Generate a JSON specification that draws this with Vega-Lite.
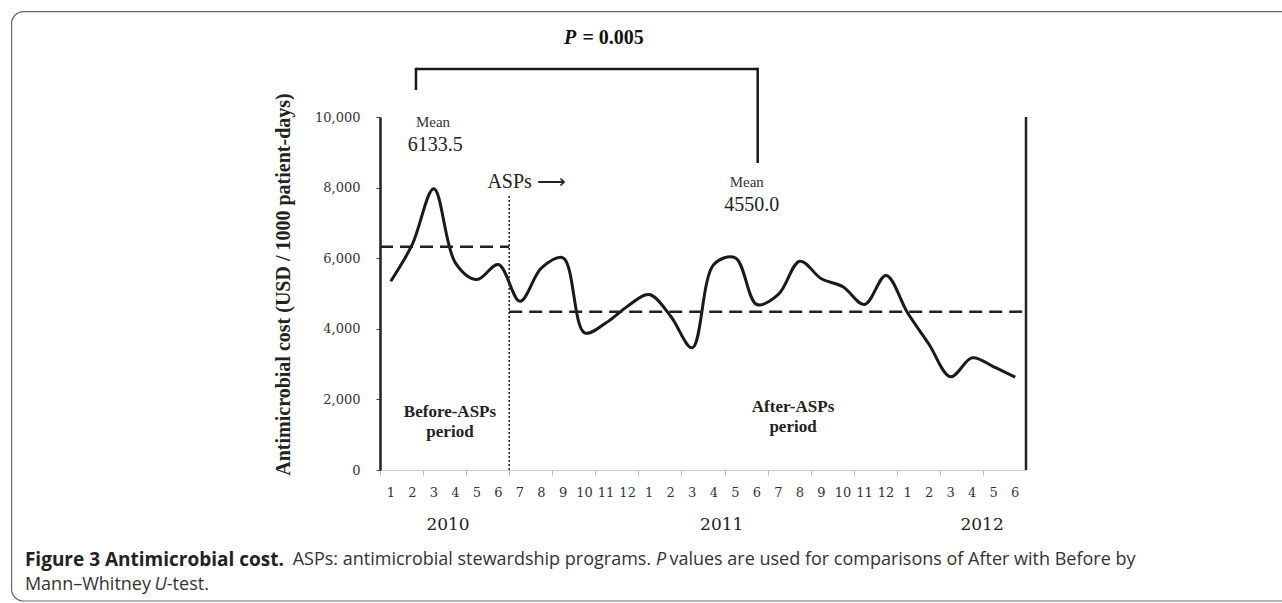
{
  "$schema": "https://vega.github.io/schema/vega-lite/v6.json",
  "width": 646,
  "height": 353,
  "autosize": {"type": "none"},
  "padding": {"left": 380, "top": 117, "right": 256, "bottom": 133},
  "background": "white",
  "config": {"view": {"stroke": null}, "font": "Liberation Serif"},
  "datasets": {
    "cost": [
      {"i": 1, "year": 2010, "month": 1, "cost": 5348},
      {"i": 2, "year": 2010, "month": 2, "cost": 6390},
      {"i": 3, "year": 2010, "month": 3, "cost": 7966},
      {"i": 4, "year": 2010, "month": 4, "cost": 5870},
      {"i": 5, "year": 2010, "month": 5, "cost": 5397},
      {"i": 6, "year": 2010, "month": 6, "cost": 5822},
      {"i": 7, "year": 2010, "month": 7, "cost": 4782},
      {"i": 8, "year": 2010, "month": 8, "cost": 5727},
      {"i": 9, "year": 2010, "month": 9, "cost": 6011},
      {"i": 10, "year": 2010, "month": 10, "cost": 3887},
      {"i": 11, "year": 2010, "month": 11, "cost": 4170},
      {"i": 12, "year": 2010, "month": 12, "cost": 4641},
      {"i": 13, "year": 2011, "month": 1, "cost": 4972},
      {"i": 14, "year": 2011, "month": 2, "cost": 4357},
      {"i": 15, "year": 2011, "month": 3, "cost": 3462},
      {"i": 16, "year": 2011, "month": 4, "cost": 5822},
      {"i": 17, "year": 2011, "month": 5, "cost": 6011},
      {"i": 18, "year": 2011, "month": 6, "cost": 4688},
      {"i": 19, "year": 2011, "month": 7, "cost": 4972},
      {"i": 20, "year": 2011, "month": 8, "cost": 5915},
      {"i": 21, "year": 2011, "month": 9, "cost": 5416},
      {"i": 22, "year": 2011, "month": 10, "cost": 5190},
      {"i": 23, "year": 2011, "month": 11, "cost": 4688},
      {"i": 24, "year": 2011, "month": 12, "cost": 5510},
      {"i": 25, "year": 2012, "month": 1, "cost": 4453},
      {"i": 26, "year": 2012, "month": 2, "cost": 3555},
      {"i": 27, "year": 2012, "month": 3, "cost": 2640},
      {"i": 28, "year": 2012, "month": 4, "cost": 3178},
      {"i": 29, "year": 2012, "month": 5, "cost": 2923},
      {"i": 30, "year": 2012, "month": 6, "cost": 2629}
    ]
  },
  "layer": [
    {
      "data": {"values": [{}]},
      "mark": {"type": "rect", "fill": null, "stroke": "#666", "strokeWidth": 1.2, "cornerRadius": 12},
      "encoding": {
        "x": {"datum": -16.61, "type": "quantitative", "scale": {"domain": [0.5, 30.5], "nice": false, "zero": false}},
        "x2": {"datum": 60},
        "y": {"datum": 12983, "type": "quantitative", "scale": {"domain": [0, 10000], "nice": false, "zero": false}},
        "y2": {"datum": -3711}
      }
    },
    {
      "data": {"name": "cost"},
      "mark": {"type": "line", "interpolate": "catmull-rom", "strokeWidth": 3, "color": "#1a1a1a"},
      "encoding": {
        "x": {
          "field": "i", "type": "quantitative",
          "scale": {"domain": [0.5, 30.5], "nice": false, "zero": false},
          "axis": {
            "values": [1,2,3,4,5,6,7,8,9,10,11,12,13,14,15,16,17,18,19,20,21,22,23,24,25,26,27,28,29,30],
            "labels": false,
            "title": null, "grid": false,
            "domainColor": "#c8c8c8", "domainWidth": 1,
            "tickColor": "#b8b8b8", "tickSize": 5,
            "tickOffset": -10.77
          }
        },
        "y": {
          "field": "cost", "type": "quantitative",
          "scale": {"domain": [0, 10000], "nice": false, "zero": false},
          "axis": {
            "values": [0, 2000, 4000, 6000, 8000, 10000],
            "format": ",d",
            "title": "Antimicrobial cost (USD / 1000 patient-days)",
            "titleFont": "Liberation Serif", "titleFontSize": 20, "titleFontWeight": "bold", "titleColor": "#222",
            "titleX": -97, "titleY": 167, "titleBaseline": "middle", "titleAlign": "center", "titleAngle": 270,
            "grid": false,
            "domainColor": "#222", "domainWidth": 2.5,
            "tickColor": "#444", "tickSize": 4,
            "labelFont": "DejaVu Serif", "labelFontSize": 13, "labelColor": "#333", "labelPadding": 16
          }
        }
      }
    },
    {
      "data": {"name": "cost"},
      "mark": {"type": "text", "font": "DejaVu Serif", "fontSize": 13, "align": "center", "baseline": "middle", "color": "#333"},
      "encoding": {
        "x": {"field": "i", "type": "quantitative", "scale": {"domain": [0.5, 30.5], "nice": false, "zero": false}},
        "y": {"datum": -643, "type": "quantitative", "scale": {"domain": [0, 10000], "nice": false, "zero": false}},
        "text": {"field": "month"}
      }
    },
    {
      "data": {"values": [{}]},
      "mark": {"type": "rule", "strokeDash": [13, 7], "strokeWidth": 2.5, "color": "#222"},
      "encoding": {
        "x": {"datum": 0.5, "type": "quantitative", "scale": {"domain": [0.5, 30.5], "nice": false, "zero": false}},
        "x2": {"datum": 6.5},
        "y": {"datum": 6326, "type": "quantitative", "scale": {"domain": [0, 10000], "nice": false, "zero": false}}
      }
    },
    {
      "data": {"values": [{}]},
      "mark": {"type": "rule", "strokeDash": [13, 7], "strokeWidth": 2.5, "color": "#222"},
      "encoding": {
        "x": {"datum": 6.5, "type": "quantitative", "scale": {"domain": [0.5, 30.5], "nice": false, "zero": false}},
        "x2": {"datum": 30.5},
        "y": {"datum": 4485, "type": "quantitative", "scale": {"domain": [0, 10000], "nice": false, "zero": false}}
      }
    },
    {
      "data": {"values": [{}]},
      "mark": {"type": "rule", "strokeDash": [2, 2], "strokeWidth": 1.5, "color": "#222"},
      "encoding": {
        "x": {"datum": 6.5, "type": "quantitative", "scale": {"domain": [0.5, 30.5], "nice": false, "zero": false}},
        "y": {"datum": 0, "type": "quantitative", "scale": {"domain": [0, 10000], "nice": false, "zero": false}},
        "y2": {"datum": 7790}
      }
    },
    {
      "data": {"values": [{}]},
      "mark": {"type": "rule", "strokeWidth": 2.5, "color": "#222"},
      "encoding": {
        "x": {"datum": 30.5, "type": "quantitative", "scale": {"domain": [0.5, 30.5], "nice": false, "zero": false}},
        "y": {"datum": 0, "type": "quantitative", "scale": {"domain": [0, 10000], "nice": false, "zero": false}},
        "y2": {"datum": 10000}
      }
    },
    {
      "data": {"values": [{}]},
      "mark": {"type": "rule", "strokeWidth": 2.5, "color": "#1a1a1a"},
      "encoding": {
        "x": {"datum": 2.17, "type": "quantitative", "scale": {"domain": [0.5, 30.5], "nice": false, "zero": false}},
        "x2": {"datum": 18.04},
        "y": {"datum": 11360, "type": "quantitative", "scale": {"domain": [0, 10000], "nice": false, "zero": false}}
      }
    },
    {
      "data": {"values": [{}]},
      "mark": {"type": "rule", "strokeWidth": 2.5, "color": "#1a1a1a"},
      "encoding": {
        "x": {"datum": 2.17, "type": "quantitative", "scale": {"domain": [0.5, 30.5], "nice": false, "zero": false}},
        "y": {"datum": 11395, "type": "quantitative", "scale": {"domain": [0, 10000], "nice": false, "zero": false}},
        "y2": {"datum": 10765}
      }
    },
    {
      "data": {"values": [{}]},
      "mark": {"type": "rule", "strokeWidth": 2.5, "color": "#1a1a1a"},
      "encoding": {
        "x": {"datum": 18.04, "type": "quantitative", "scale": {"domain": [0.5, 30.5], "nice": false, "zero": false}},
        "y": {"datum": 11395, "type": "quantitative", "scale": {"domain": [0, 10000], "nice": false, "zero": false}},
        "y2": {"datum": 8697}
      }
    },
    {
      "data": {"values": [{}]},
      "mark": {"type": "text", "text": "P", "font": "Liberation Serif", "fontSize": 20, "fontWeight": "bold", "fontStyle": "italic", "align": "left", "baseline": "alphabetic", "color": "#111"},
      "encoding": {
        "x": {"datum": 9.05, "type": "quantitative", "scale": {"domain": [0.5, 30.5], "nice": false, "zero": false}},
        "y": {"datum": 12068, "type": "quantitative", "scale": {"domain": [0, 10000], "nice": false, "zero": false}}
      }
    },
    {
      "data": {"values": [{}]},
      "mark": {"type": "text", "text": "= 0.005", "font": "Liberation Serif", "fontSize": 20, "fontWeight": "bold", "align": "left", "baseline": "alphabetic", "color": "#111"},
      "encoding": {
        "x": {"datum": 9.9, "type": "quantitative", "scale": {"domain": [0.5, 30.5], "nice": false, "zero": false}},
        "y": {"datum": 12068, "type": "quantitative", "scale": {"domain": [0, 10000], "nice": false, "zero": false}}
      }
    },
    {
      "data": {"values": [{}]},
      "mark": {"type": "text", "text": "Mean", "font": "Liberation Serif", "fontSize": 15, "align": "center", "baseline": "middle", "color": "#333"},
      "encoding": {
        "x": {"datum": 2.96, "type": "quantitative", "scale": {"domain": [0.5, 30.5], "nice": false, "zero": false}},
        "y": {"datum": 9867, "type": "quantitative", "scale": {"domain": [0, 10000], "nice": false, "zero": false}}
      }
    },
    {
      "data": {"values": [{}]},
      "mark": {"type": "text", "text": "6133.5", "font": "Liberation Serif", "fontSize": 20, "align": "center", "baseline": "middle", "color": "#222"},
      "encoding": {
        "x": {"datum": 3.06, "type": "quantitative", "scale": {"domain": [0.5, 30.5], "nice": false, "zero": false}},
        "y": {"datum": 9207, "type": "quantitative", "scale": {"domain": [0, 10000], "nice": false, "zero": false}}
      }
    },
    {
      "data": {"values": [{}]},
      "mark": {"type": "text", "text": "ASPs ⟶", "font": "Liberation Serif", "fontSize": 20, "align": "center", "baseline": "middle", "color": "#222"},
      "encoding": {
        "x": {"datum": 7.31, "type": "quantitative", "scale": {"domain": [0.5, 30.5], "nice": false, "zero": false}},
        "y": {"datum": 8167, "type": "quantitative", "scale": {"domain": [0, 10000], "nice": false, "zero": false}}
      }
    },
    {
      "data": {"values": [{}]},
      "mark": {"type": "text", "text": "Mean", "font": "Liberation Serif", "fontSize": 15, "align": "center", "baseline": "middle", "color": "#333"},
      "encoding": {
        "x": {"datum": 17.53, "type": "quantitative", "scale": {"domain": [0.5, 30.5], "nice": false, "zero": false}},
        "y": {"datum": 8167, "type": "quantitative", "scale": {"domain": [0, 10000], "nice": false, "zero": false}}
      }
    },
    {
      "data": {"values": [{}]},
      "mark": {"type": "text", "text": "4550.0", "font": "Liberation Serif", "fontSize": 20, "align": "center", "baseline": "middle", "color": "#222"},
      "encoding": {
        "x": {"datum": 17.76, "type": "quantitative", "scale": {"domain": [0.5, 30.5], "nice": false, "zero": false}},
        "y": {"datum": 7507, "type": "quantitative", "scale": {"domain": [0, 10000], "nice": false, "zero": false}}
      }
    },
    {
      "data": {"values": [{}]},
      "mark": {"type": "text", "text": ["Before-ASPs", "period"], "lineHeight": 20, "font": "Liberation Serif", "fontSize": 17, "fontWeight": "bold", "align": "center", "baseline": "middle", "color": "#222"},
      "encoding": {
        "x": {"datum": 3.75, "type": "quantitative", "scale": {"domain": [0.5, 30.5], "nice": false, "zero": false}},
        "y": {"datum": 1652, "type": "quantitative", "scale": {"domain": [0, 10000], "nice": false, "zero": false}}
      }
    },
    {
      "data": {"values": [{}]},
      "mark": {"type": "text", "text": ["After-ASPs", "period"], "lineHeight": 20, "font": "Liberation Serif", "fontSize": 17, "fontWeight": "bold", "align": "center", "baseline": "middle", "color": "#222"},
      "encoding": {
        "x": {"datum": 19.68, "type": "quantitative", "scale": {"domain": [0.5, 30.5], "nice": false, "zero": false}},
        "y": {"datum": 1793, "type": "quantitative", "scale": {"domain": [0, 10000], "nice": false, "zero": false}}
      }
    },
    {
      "data": {"values": [{"year": "2010", "pos": 3.66}, {"year": "2011", "pos": 16.37}, {"year": "2012", "pos": 28.46}]},
      "mark": {"type": "text", "font": "DejaVu Serif", "fontSize": 17, "align": "center", "baseline": "middle", "color": "#222"},
      "encoding": {
        "x": {"field": "pos", "type": "quantitative", "scale": {"domain": [0.5, 30.5], "nice": false, "zero": false}},
        "y": {"datum": -1558, "type": "quantitative", "scale": {"domain": [0, 10000], "nice": false, "zero": false}},
        "text": {"field": "year"}
      }
    },
    {
      "data": {"values": [{}]},
      "mark": {"type": "text", "text": "Figure 3 Antimicrobial cost.", "font": "Open Sans", "fontSize": 19, "fontWeight": "bold", "align": "left", "baseline": "middle", "color": "#222"},
      "encoding": {
        "x": {"datum": -15.99, "type": "quantitative", "scale": {"domain": [0.5, 30.5], "nice": false, "zero": false}},
        "y": {"datum": -2541, "type": "quantitative", "scale": {"domain": [0, 10000], "nice": false, "zero": false}}
      }
    },
    {
      "data": {"values": [{}]},
      "mark": {"type": "text", "text": "ASPs: antimicrobial stewardship programs.", "font": "Open Sans", "fontSize": 18, "align": "left", "baseline": "middle", "color": "#333"},
      "encoding": {
        "x": {"datum": -3.555, "type": "quantitative", "scale": {"domain": [0.5, 30.5], "nice": false, "zero": false}},
        "y": {"datum": -2541, "type": "quantitative", "scale": {"domain": [0, 10000], "nice": false, "zero": false}}
      }
    },
    {
      "data": {"values": [{}]},
      "mark": {"type": "text", "text": "P", "font": "Open Sans", "fontSize": 18, "fontStyle": "italic", "align": "left", "baseline": "middle", "color": "#333"},
      "encoding": {
        "x": {"datum": 13.32, "type": "quantitative", "scale": {"domain": [0.5, 30.5], "nice": false, "zero": false}},
        "y": {"datum": -2541, "type": "quantitative", "scale": {"domain": [0, 10000], "nice": false, "zero": false}}
      }
    },
    {
      "data": {"values": [{}]},
      "mark": {"type": "text", "text": "values are used for comparisons of After with Before by", "font": "Open Sans", "fontSize": 18, "align": "left", "baseline": "middle", "color": "#333"},
      "encoding": {
        "x": {"datum": 13.94, "type": "quantitative", "scale": {"domain": [0.5, 30.5], "nice": false, "zero": false}},
        "y": {"datum": -2541, "type": "quantitative", "scale": {"domain": [0, 10000], "nice": false, "zero": false}}
      }
    },
    {
      "data": {"values": [{}]},
      "mark": {"type": "text", "text": "Mann–Whitney", "font": "Open Sans", "fontSize": 18, "align": "left", "baseline": "middle", "color": "#333"},
      "encoding": {
        "x": {"datum": -15.99, "type": "quantitative", "scale": {"domain": [0.5, 30.5], "nice": false, "zero": false}},
        "y": {"datum": -3258, "type": "quantitative", "scale": {"domain": [0, 10000], "nice": false, "zero": false}}
      }
    },
    {
      "data": {"values": [{}]},
      "mark": {"type": "text", "text": "U", "font": "Open Sans", "fontSize": 18, "fontStyle": "italic", "align": "left", "baseline": "middle", "color": "#333"},
      "encoding": {
        "x": {"datum": -9.97, "type": "quantitative", "scale": {"domain": [0.5, 30.5], "nice": false, "zero": false}},
        "y": {"datum": -3258, "type": "quantitative", "scale": {"domain": [0, 10000], "nice": false, "zero": false}}
      }
    },
    {
      "data": {"values": [{}]},
      "mark": {"type": "text", "text": "-test.", "font": "Open Sans", "fontSize": 18, "align": "left", "baseline": "middle", "color": "#333"},
      "encoding": {
        "x": {"datum": -9.4, "type": "quantitative", "scale": {"domain": [0.5, 30.5], "nice": false, "zero": false}},
        "y": {"datum": -3258, "type": "quantitative", "scale": {"domain": [0, 10000], "nice": false, "zero": false}}
      }
    }
  ]
}
